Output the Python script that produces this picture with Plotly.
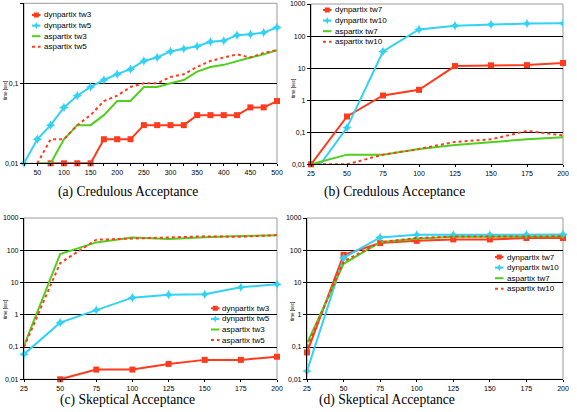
import plotly.graph_objects as go

W, H = 577, 412

# ---------------- data ----------------
x_a = [25, 50, 75, 100, 125, 150, 175, 200, 225, 250, 275, 300, 325, 350, 375, 400, 425, 450, 475, 500]
x_ticktext_a = ["", "50", "", "100", "", "150", "", "200", "", "250", "", "300", "", "350", "", "400", "", "450", "", "500"]
x_bcd = [25, 50, 75, 100, 125, 150, 175, 200]

names_tw35 = ["dynpartix tw3", "dynpartix tw5", "aspartix tw3", "aspartix tw5"]
names_tw710 = ["dynpartix tw7", "dynpartix tw10", "aspartix tw7", "aspartix tw10"]

# (a) Credulous Acceptance
a_dyn_tw3 = [None, None, 0.01, 0.01, 0.01, 0.01, 0.02, 0.02, 0.02, 0.03, 0.03, 0.03, 0.03, 0.04, 0.04, 0.04, 0.04, 0.05, 0.05, 0.06]
a_dyn_tw5 = [0.01, 0.02, 0.03, 0.05, 0.07, 0.09, 0.11, 0.13, 0.15, 0.19, 0.21, 0.25, 0.27, 0.29, 0.33, 0.34, 0.40, 0.41, 0.43, 0.50]
a_asp_tw3 = [None, 0.01, 0.01, 0.02, 0.03, 0.03, 0.04, 0.06, 0.06, 0.09, 0.09, 0.10, 0.11, 0.14, 0.16, 0.17, 0.19, 0.21, 0.23, 0.26]
a_asp_tw5 = [None, 0.01, 0.02, 0.02, 0.03, 0.04, 0.06, 0.07, 0.09, 0.10, 0.10, 0.12, 0.13, 0.16, 0.19, 0.21, 0.23, 0.21, 0.24, 0.26]

# (b) Credulous Acceptance
b_dyn_tw7 = [0.01, 0.31, 1.4, 2.1, 11.6, 12.2, 12.4, 14.5]
b_dyn_tw10 = [0.004, 0.14, 33, 160, 210, 230, 245, 250]
b_asp_tw7 = [0.01, 0.02, 0.02, 0.03, 0.04, 0.05, 0.06, 0.07]
b_asp_tw10 = [0.01, 0.01, 0.02, 0.03, 0.05, 0.06, 0.11, 0.08]

# (c) Skeptical Acceptance
c_dyn_tw3 = [None, 0.01, 0.02, 0.02, 0.03, 0.04, 0.04, 0.05]
c_dyn_tw5 = [0.06, 0.57, 1.4, 3.4, 4.2, 4.3, 7.1, 8.8]
c_asp_tw3 = [0.11, 76, 175, 250, 222, 255, 275, 290]
c_asp_tw5 = [0.10, 40, 213, 227, 250, 270, 262, 295]

# (d) Skeptical Acceptance
d_dyn_tw7 = [0.068, 72, 167, 196, 217, 217, 240, 240]
d_dyn_tw10 = [0.018, 58, 250, 300, 300, 300, 305, 310]
d_asp_tw7 = [0.13, 38, 178, 227, 260, 260, 260, 265]
d_asp_tw10 = [0.10, 45, 178, 240, 265, 265, 265, 270]

y_ticks_a = [0.01, 0.1, 1]
y_ticktext_a = ["0,01", "0,1", "1"]
y_ticks_b = [0.01, 0.1, 1, 10, 100, 1000]
y_ticktext_b = ["0,01", "0,1", "1", "10", "100", "1000"]

captions = ["(a) Credulous Acceptance", "(b) Credulous Acceptance",
            "(c) Skeptical Acceptance", "(d) Skeptical Acceptance"]

# ---------------- styles ----------------
RED = "#ff3b1d"
CYAN = "#31d2f3"
GREEN = "#52cf1e"
styles = [
    dict(color=RED, dash="solid", symbol="square", msize=6),
    dict(color=CYAN, dash="solid", symbol="star-diamond", msize=7),
    dict(color=GREEN, dash="solid", symbol=None, msize=0),
    dict(color=RED, dash="dot", symbol=None, msize=0),
]


def px(x):
    return x / W


def py(y):
    return 1 - y / H


panels = [
    dict(x=x_a, series=[a_dyn_tw3, a_dyn_tw5, a_asp_tw3, a_asp_tw5], names=names_tw35,
         box=(24, 3.3, 277, 163.3), yr=[-2, 0], yt=(y_ticks_a, y_ticktext_a),
         xt=(x_a, x_ticktext_a), xr=[25, 500],
         leg=(32, 15, 41.5), cap=(128, 191.5), ytl=(5, 91)),
    dict(x=x_bcd, series=[b_dyn_tw7, b_dyn_tw10, b_asp_tw7, b_asp_tw10], names=names_tw710,
         box=(311, 4, 563, 164.3), yr=[-2, 3], yt=(y_ticks_b, y_ticktext_b),
         xt=(x_bcd, [str(v) for v in x_bcd]), xr=[25, 200],
         leg=(323, 10, 333), cap=(394.5, 191.5), ytl=(293, 89)),
    dict(x=x_bcd, series=[c_dyn_tw3, c_dyn_tw5, c_asp_tw3, c_asp_tw5], names=names_tw35,
         box=(24, 218, 277, 379.3), yr=[-2, 3], yt=(y_ticks_b, y_ticktext_b),
         xt=(x_bcd, [str(v) for v in x_bcd]), xr=[25, 200],
         leg=(211, 308.3, 220), cap=(127.5, 399.5), ytl=(5, 310)),
    dict(x=x_bcd, series=[d_dyn_tw7, d_dyn_tw10, d_asp_tw7, d_asp_tw10], names=names_tw710,
         box=(307, 218, 563, 379.3), yr=[-2, 3], yt=(y_ticks_b, y_ticktext_b),
         xt=(x_bcd, [str(v) for v in x_bcd]), xr=[25, 200],
         leg=(495, 257, 504.5), cap=(387, 399.5), ytl=(292, 311)),
]

fig = go.Figure()
shapes = []
annotations = []
layout = {}

TICKFONT = dict(family="Liberation Sans, Arial", size=7, color="black")

for i, p in enumerate(panels):
    n = "" if i == 0 else str(i + 1)
    xa, ya = "x" + n, "y" + n
    x0, y0, x1, y1 = p["box"]
    for k, (vals, name) in enumerate(zip(p["series"], p["names"])):
        st = styles[k]
        mode = "lines+markers" if st["symbol"] else "lines"
        tr = go.Scatter(
            x=p["x"], y=vals, name=name, mode=mode, xaxis=xa, yaxis=ya,
            line=dict(color=st["color"], width=2, dash=st["dash"]),
            showlegend=False, connectgaps=False,
            cliponaxis=not (min(v for v in vals if v is not None) >= 0.01),
        )
        if st["symbol"]:
            tr.marker = dict(symbol=st["symbol"], size=st["msize"], color=st["color"],
                             line=dict(width=0))
        fig.add_trace(tr)

    layout["xaxis" + n] = dict(
        domain=[px(x0), px(x1)], anchor=ya, type="linear", range=p["xr"],
        tickmode="array", tickvals=p["xt"][0], ticktext=p["xt"][1],
        showgrid=False, zeroline=False, showline=True, linecolor="black", linewidth=1.2,
        ticks="outside", ticklen=2, tickcolor="black", tickwidth=1,
        tickfont=TICKFONT, automargin=False,
    )
    layout["yaxis" + n] = dict(
        domain=[py(y1), py(y0)], anchor=xa, type="log", range=p["yr"],
        tickmode="array", tickvals=p["yt"][0], ticktext=p["yt"][1],
        showgrid=True, gridcolor="black", gridwidth=1.2, zeroline=False,
        showline=True, linecolor="black", linewidth=1.2,
        ticks="outside", ticklen=3, tickcolor="black", tickwidth=1,
        tickfont=TICKFONT, automargin=False,
    )
    # plot-area frame (gray)
    shapes.append(dict(type="rect", xref="paper", yref="paper",
                       x0=px(x0), x1=px(x1), y0=py(y1), y1=py(y0),
                       line=dict(color="#9a9a9a", width=1), layer="below"))
    # y axis title
    annotations.append(dict(text="time [sec]", x=px(p["ytl"][0]), y=py(p["ytl"][1]),
                            xref="paper", yref="paper", showarrow=False, textangle=-90,
                            font=dict(family="Liberation Sans, Arial", size=4.5, color="black"),
                            xanchor="center", yanchor="middle"))
    # caption
    annotations.append(dict(text=captions[i], x=px(p["cap"][0]), y=py(p["cap"][1]),
                            xref="paper", yref="paper", showarrow=False,
                            font=dict(family="Liberation Serif, Times New Roman", size=13.6, color="black"),
                            xanchor="center", yanchor="middle"))
    # custom legend
    lx, ly, tx = p["leg"]
    for k, name in enumerate(p["names"]):
        st = styles[k]
        yy = ly + k * 10.6
        shapes.append(dict(type="line", xref="paper", yref="paper",
                           x0=px(lx), x1=px(lx + 8.5), y0=py(yy), y1=py(yy),
                           line=dict(color=st["color"], width=2, dash=st["dash"])))
        if st["symbol"] == "square":
            shapes.append(dict(type="rect", xref="paper", yref="paper",
                               x0=px(lx + 1.8), x1=px(lx + 6.8), y0=py(yy + 2.5), y1=py(yy - 2.5),
                               fillcolor=st["color"], line=dict(width=0)))
        elif st["symbol"]:
            cx, cy, ro, ri = lx + 4.25, yy, 3.6, 1.1
            pts = [(cx, cy - ro), (cx + ri, cy - ri), (cx + ro, cy), (cx + ri, cy + ri),
                   (cx, cy + ro), (cx - ri, cy + ri), (cx - ro, cy), (cx - ri, cy - ri)]
            path = "M " + " L ".join(f"{px(a):.5f},{py(b):.5f}" for a, b in pts) + " Z"
            shapes.append(dict(type="path", xref="paper", yref="paper", path=path,
                               fillcolor=st["color"], line=dict(width=0)))
        annotations.append(dict(text=name, x=px(tx), y=py(yy), xref="paper", yref="paper",
                                showarrow=False, xanchor="left", yanchor="middle",
                                font=dict(family="Liberation Sans, Arial", size=8, color="black")))

fig.update_layout(
    width=W, height=H, margin=dict(l=0, r=0, t=0, b=0, autoexpand=False),
    paper_bgcolor="white", plot_bgcolor="white", showlegend=False,
    shapes=shapes, annotations=annotations, **layout,
)

fig.write_html("out.html", config={"displayModeBar": False},
               post_script="document.body.style.margin='0px';document.body.style.overflow='hidden';")
